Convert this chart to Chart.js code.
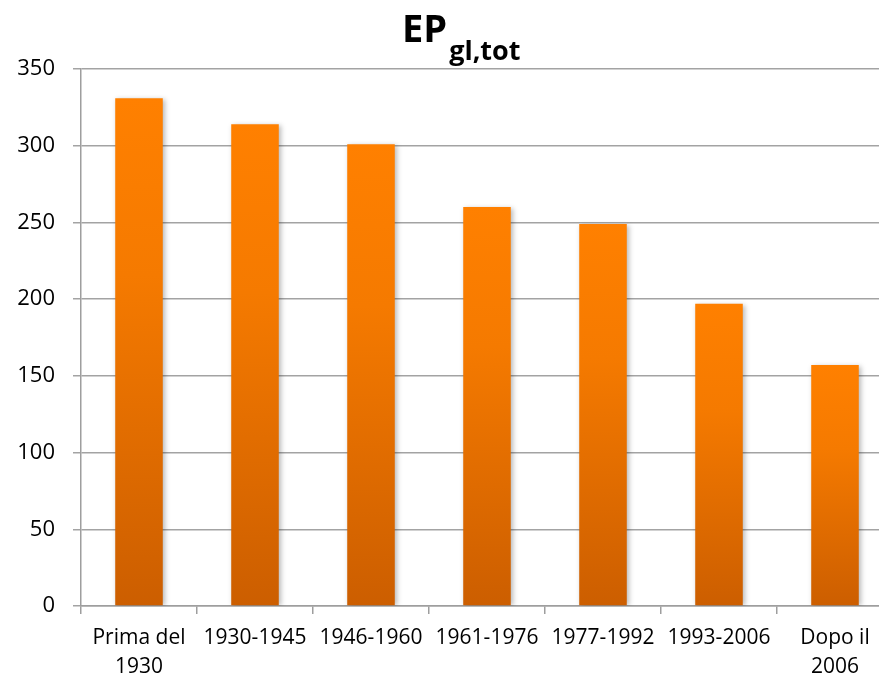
<!DOCTYPE html>
<html lang="it">
<head>
<meta charset="utf-8">
<script src="https://cdn.jsdelivr.net/npm/chart.js@4.4.1/dist/chart.umd.min.js"></script>
<style>
  html, body { margin: 0; padding: 0; overflow: hidden; background: #fff; }
</style>
</head>
<body>
<canvas id="bar-chart" width="900" height="676"></canvas>
<script>
// categorie e valori
const categories = [['Prima del', '1930'], '1930-1945', '1946-1960', '1961-1976', '1977-1992', '1993-2006', ['Dopo il', '2006']];
const epValues = [331, 314, 301, 260, 249, 197, 157];
const yTicks = [0, 50, 100, 150, 200, 250, 300, 350];

// gradiente verticale per ogni barra (chiaro in alto, scuro in basso)
function barGradient(ctx) {
  const chart = ctx.chart;
  if (!chart.chartArea || !chart.scales.y) return '#FF8000';
  const y = chart.scales.y;
  const top = y.getPixelForValue(epValues[ctx.dataIndex]);
  const bottom = y.getPixelForValue(0);
  const g = chart.ctx.createLinearGradient(0, top, 0, bottom);
  g.addColorStop(0, '#FF8000');
  g.addColorStop(0.35, '#F57A00');
  g.addColorStop(1, '#CC5E00');
  return g;
}

// ombra leggera sotto le barre
const barShadow = {
  id: 'barShadow',
  beforeDatasetsDraw(chart) {
    const c = chart.ctx;
    c.save();
    c.shadowColor = 'rgba(0,0,0,0.28)';
    c.shadowBlur = 5;
    c.shadowOffsetX = 2;
    c.shadowOffsetY = 1;
  },
  afterDatasetsDraw(chart) {
    chart.ctx.restore();
  }
};

// titolo con pedice: EP gl,tot
const subTitle = {
  id: 'subTitle',
  afterDraw(chart) {
    const c = chart.ctx;
    c.save();
    c.fillStyle = '#000';
    c.textBaseline = 'alphabetic';
    c.textAlign = 'left';
    c.font = 'bold 38px "Open Sans", sans-serif';
    c.fillText('EP', 402, 42);
    const w = c.measureText('EP').width;
    c.font = 'bold 27px "Open Sans", sans-serif';
    c.fillText('gl,tot', 402 + w + 2, 60);
    c.restore();
  }
};

new Chart(document.getElementById('bar-chart'), {
  type: 'bar',
  data: {
    labels: categories,
    datasets: [{
      label: 'EPgl,tot',
      data: epValues,
      backgroundColor: barGradient,
      borderWidth: 0,
      barPercentage: 0.41,
      categoryPercentage: 1.0
    }]
  },
  options: {
    responsive: false,
    animation: false,
    layout: { padding: { top: 69, right: 7, left: 0, bottom: 0 } },
    plugins: {
      legend: { display: false },
      title: { display: false },
      tooltip: { enabled: false }
    },
    scales: {
      x: {
        grid: {
          offset: true,
          drawOnChartArea: false,
          drawTicks: true,
          tickLength: 8,
          color: '#9E9E9E',
          lineWidth: 1.5
        },
        border: { color: '#9E9E9E', width: 1.5 },
        ticks: {
          color: '#000',
          font: { family: '"Open Sans", sans-serif', size: 21, lineHeight: 1.4 },
          padding: 9,
          maxRotation: 0,
          autoSkip: false
        },
        afterFit(scale) { scale.height = 70; }
      },
      y: {
        min: 0,
        max: 350,
        afterBuildTicks(scale) { scale.ticks = yTicks.map(v => ({ value: v })); },
        grid: {
          color: '#A3A3A3',
          lineWidth: 1.5,
          tickLength: 8
        },
        border: { color: '#9E9E9E', width: 1.5 },
        ticks: {
          color: '#000',
          font: { family: '"Open Sans", sans-serif', size: 22 },
          padding: 18
        },
        afterFit(scale) { scale.width = 81; }
      }
    }
  },
  plugins: [barShadow, subTitle]
});
</script>
</body>
</html>
